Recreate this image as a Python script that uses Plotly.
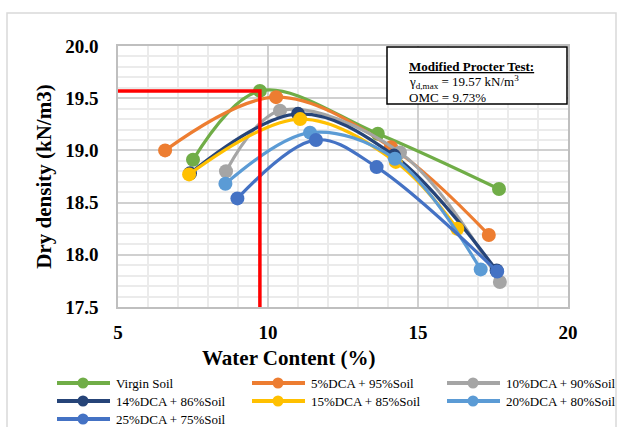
import plotly.graph_objects as go

# Compaction curves: water content (%) vs dry density (kN/m3)
series_names = [
    "Virgin Soil",
    "5%DCA + 95%Soil",
    "10%DCA + 90%Soil",
    "14%DCA + 86%Soil",
    "15%DCA + 85%Soil",
    "20%DCA + 80%Soil",
    "25%DCA + 75%Soil",
]
water_virgin = [7.50, 9.73, 13.66, 17.70]
dens_virgin = [18.91, 19.57, 19.16, 18.63]
water_dca5 = [6.57, 10.27, 14.10, 17.36]
dens_dca5 = [19.00, 19.51, 19.03, 18.19]
water_dca10 = [8.60, 10.40, 14.40, 17.73]
dens_dca10 = [18.80, 19.38, 18.98, 17.74]
water_dca14 = [7.40, 11.00, 14.20, 17.62]
dens_dca14 = [18.78, 19.35, 18.95, 17.85]
water_dca15 = [7.37, 11.07, 14.26, 16.31]
dens_dca15 = [18.77, 19.30, 18.89, 18.25]
water_dca20 = [8.58, 11.40, 14.23, 17.09]
dens_dca20 = [18.68, 19.17, 18.92, 17.86]
water_dca25 = [8.98, 11.60, 13.62, 17.64]
dens_dca25 = [18.54, 19.10, 18.84, 17.84]

# Modified Proctor result
omc = 9.73
mdd = 19.57

x_ticks = [5, 10, 15, 20]
y_ticks = [17.5, 18.0, 18.5, 19.0, 19.5, 20.0]

colors = ["#70AD47", "#ED7D31", "#A5A5A5", "#264478", "#FFC000", "#5B9BD5", "#4472C4"]
xs = [water_virgin, water_dca5, water_dca10, water_dca14, water_dca15, water_dca20, water_dca25]
ys = [dens_virgin, dens_dca5, dens_dca10, dens_dca14, dens_dca15, dens_dca20, dens_dca25]

SERIF = "Liberation Serif"
W, H = 622, 427
M_L, M_R, M_T, M_B = 118, 54, 46, 120
PW, PH = W - M_L - M_R, H - M_T - M_B


def px_x(px):
    """Pixel column -> paper x."""
    return (px - M_L) / PW


def px_y(py):
    """Pixel row (from top) -> paper y."""
    return (H - M_B - py) / PH


fig = go.Figure()
for name, x, y, c in zip(series_names, xs, ys, colors):
    fig.add_trace(go.Scatter(
        x=x, y=y, name=name, mode="lines+markers",
        line=dict(color=c, width=3.2, shape="spline", smoothing=1),
        marker=dict(color=c, size=14),
        showlegend=False,
    ))

# OMC / maximum dry density guide lines
fig.add_trace(go.Scatter(
    x=[x_ticks[0], omc, omc], y=[mdd, mdd, y_ticks[0]],
    mode="lines", line=dict(color="#FF0000", width=3.5),
    showlegend=False, hoverinfo="skip",
))

shapes = [
    # outer chart frame
    dict(type="rect", xref="paper", yref="paper",
         x0=px_x(7), x1=px_x(616), y0=px_y(440), y1=px_y(13),
         line=dict(color="#D9D9D9", width=1.5), layer="below"),
    # info box
    dict(type="rect", xref="paper", yref="paper",
         x0=px_x(387), x1=px_x(567), y0=px_y(104), y1=px_y(47),
         line=dict(color="black", width=1.5), fillcolor="white", layer="above"),
]
annotations = [
    dict(xref="paper", yref="paper", x=px_x(407), y=px_y(66), xanchor="left", yanchor="middle",
         text="<b><u>Modified Procter Test:</u></b>", showarrow=False,
         font=dict(family=SERIF, size=13, color="black")),
    dict(xref="paper", yref="paper", x=px_x(407), y=px_y(82), xanchor="left", yanchor="middle",
         text=f"γ<sub>d,max</sub> = {mdd:.2f} kN/m<sup>3</sup>", showarrow=False,
         font=dict(family=SERIF, size=13, color="black")),
    dict(xref="paper", yref="paper", x=px_x(407), y=px_y(97), xanchor="left", yanchor="middle",
         text=f"OMC = {omc:.2f}%", showarrow=False,
         font=dict(family=SERIF, size=13, color="black")),
    # x-axis title
    dict(xref="paper", yref="paper", x=px_x(288), y=px_y(358), xanchor="center", yanchor="middle",
         text="<b>Water Content (%)</b>", showarrow=False,
         font=dict(family=SERIF, size=21, color="black")),
]

# Legend in three columns below the axis title
for i, (name, c) in enumerate(zip(series_names, colors)):
    row, col = divmod(i, 3)
    x0 = 57 + col * 195
    yy = px_y(383 + row * 18)
    shapes.append(dict(type="line", xref="paper", yref="paper",
                       x0=px_x(x0), x1=px_x(x0 + 53), y0=yy, y1=yy,
                       line=dict(color=c, width=4)))
    shapes.append(dict(type="circle", xref="paper", yref="paper",
                       xsizemode="pixel", ysizemode="pixel",
                       xanchor=px_x(x0 + 26), yanchor=yy,
                       x0=-5.5, x1=5.5, y0=-5.5, y1=5.5,
                       fillcolor=c, line=dict(color=c, width=0)))
    annotations.append(dict(xref="paper", yref="paper", x=px_x(x0 + 57), y=yy,
                            xanchor="left", yanchor="middle", text=name, showarrow=False,
                            font=dict(family=SERIF, size=13, color="black")))

fig.update_layout(
    width=W, height=H,
    margin=dict(l=M_L, r=M_R, t=M_T, b=M_B, autoexpand=False),
    paper_bgcolor="white", plot_bgcolor="white",
    font=dict(family=SERIF, color="black"),
    showlegend=False,
    shapes=shapes,
    annotations=annotations,
)

fig.update_xaxes(
    range=[x_ticks[0], x_ticks[-1]], tickvals=x_ticks,
    showgrid=True, gridcolor="#D0D0D0", gridwidth=1.5,
    minor=dict(dtick=1, showgrid=True, gridcolor="#EBEBEB", gridwidth=1.5),
    showline=True, linecolor="#BFBFBF", linewidth=1.5, mirror=True,
    zeroline=False, ticks="", ticklabelstandoff=7,
    tickfont=dict(family=SERIF, size=19, color="black", weight="bold"),
)
fig.update_yaxes(
    range=[y_ticks[0], y_ticks[-1]], tickvals=y_ticks, tickformat=".1f",
    showgrid=True, gridcolor="#D0D0D0", gridwidth=1.5,
    minor=dict(dtick=0.1, showgrid=True, gridcolor="#EBEBEB", gridwidth=1.5),
    showline=True, linecolor="#BFBFBF", linewidth=1.5, mirror=True,
    zeroline=False, ticks="", ticklabelstandoff=14,
    tickfont=dict(family=SERIF, size=19, color="black", weight="bold"),
    title=dict(text="Dry density (kN/m3)", standoff=8,
               font=dict(family=SERIF, size=21, color="black", weight="bold")),
)

fig.write_html("out.html")
